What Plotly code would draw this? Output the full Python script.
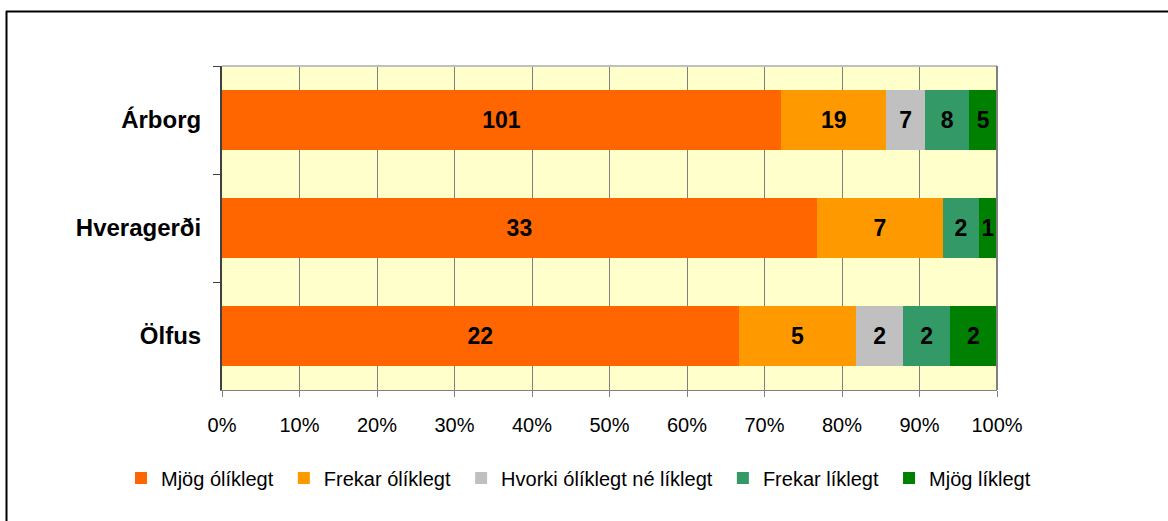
import plotly.graph_objects as go

categories = ["Árborg", "Hveragerði", "Ölfus"]
series_names = ["Mjög ólíklegt", "Frekar ólíklegt", "Hvorki ólíklegt né líklegt", "Frekar líklegt", "Mjög líklegt"]
series_values = [
    [101, 33, 22],
    [19, 7, 5],
    [7, 0, 2],
    [8, 2, 2],
    [5, 1, 2],
]
colors = ["#FF6600", "#FF9900", "#C0C0C0", "#339966", "#008000"]
tick_vals = [0, 10, 20, 30, 40, 50, 60, 70, 80, 90, 100]
tick_text = [f"{v}%" for v in tick_vals]

fig = go.Figure()
for i, (name, vals, col) in enumerate(zip(series_names, series_values, colors)):
    legend_name = name + ("\u00a0" if i < len(series_names) - 1 else "")
    fig.add_trace(go.Bar(
        y=categories, x=vals, name=legend_name, orientation="h",
        marker=dict(color=col, line=dict(width=0)),
        text=[str(v) if v else "" for v in vals],
        textposition="inside", insidetextanchor="middle",
        textfont=dict(family="Liberation Sans", size=23, color="black", weight="bold"),
        textangle=0, constraintext="none",
        hoverinfo="x+name",
    ))

W, H = 1168, 521
L, R, T, B = 222, 1168 - 997, 66, 521 - 390
pw, ph = W - L - R, H - T - B

def px_x(p):
    return (p - L) / pw

def px_y(p):
    return (H - B - p) / ph

fig.update_layout(
    width=W, height=H,
    barmode="stack", barnorm="percent", bargap=0.445,
    margin=dict(l=L, r=R, t=T, b=B, autoexpand=False),
    paper_bgcolor="white", plot_bgcolor="#FFFFCC",
    font=dict(family="Liberation Sans", color="black"),
    showlegend=True,
    legend=dict(orientation="h", x=px_x(121), xanchor="left",
                y=px_y(478), yanchor="middle",
                font=dict(size=20, family="Liberation Sans"),
                traceorder="normal", itemclick=False),
    xaxis=dict(range=[0, 100], tickvals=tick_vals, ticktext=tick_text,
               showgrid=True, gridcolor="#808080", gridwidth=1,
               ticks="outside", ticklen=6, tickcolor="#808080",
               showline=True, linecolor="#808080", linewidth=1,
               tickfont=dict(size=20, family="Liberation Sans"), tickangle=0,
               ticklabelstandoff=11, zeroline=False, fixedrange=True),
    yaxis=dict(autorange="reversed", tickson="boundaries", ticks="outside",
               ticklen=7, tickcolor="#404040", showline=True, linecolor="#404040",
               linewidth=2, showgrid=False,
               tickfont=dict(size=24, family="Liberation Sans", weight="bold"),
               ticklabelstandoff=14, fixedrange=True),
    shapes=[
        dict(type="line", xref="paper", yref="paper", x0=0, x1=1, y0=1, y1=1,
             line=dict(color="#C0C0C0", width=2)),
        dict(type="line", xref="paper", yref="paper", x0=1, x1=1, y0=0, y1=1,
             line=dict(color="#808080", width=2)),
        dict(type="line", xref="paper", yref="paper", x0=px_x(6), x1=px_x(1175),
             y0=px_y(11.5), y1=px_y(11.5), line=dict(color="black", width=2)),
        dict(type="line", xref="paper", yref="paper", x0=px_x(6.5), x1=px_x(6.5),
             y0=px_y(11), y1=px_y(530), line=dict(color="black", width=2)),
    ],
)

fig.write_html("out.html", config={"displayModeBar": False},
               post_script="document.body.style.margin='0px';")
